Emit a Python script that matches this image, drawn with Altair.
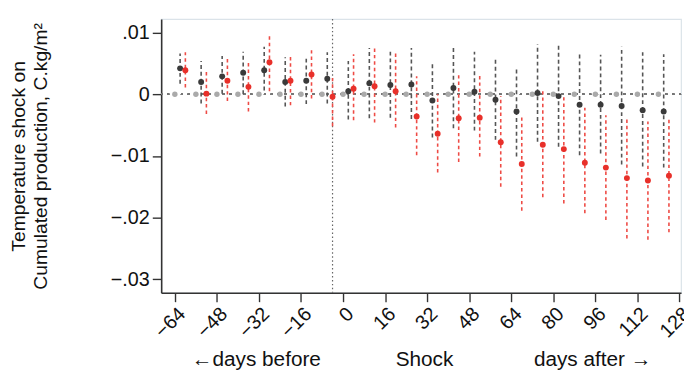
import altair as alt
import pandas as pd

days = [-64, -56, -48, -40, -32, -24, -16, -8, 0, 8, 16, 24,
        32, 40, 48, 56, 64, 72, 80, 88, 96, 104, 112, 120]
base_est = [0.0, 0.0, 0.0, 0.0, 0.0, 0.0, 0.0, 0.0, 0.0, 0.0, 0.0, 0.0,
            0.0, 0.0, 0.0, 0.0, 0.0, 0.0, 0.0, 0.0, 0.0, 0.0, 0.0, 0.0]
dark_est = [0.0042, 0.0020, 0.0029, 0.0035, 0.0039, 0.0020, 0.0022, 0.0025,
            0.0005, 0.0018, 0.0015, 0.0016, -0.0010, 0.0010, 0.0004, -0.0009,
            -0.0028, 0.0002, -0.0003, -0.0017, -0.0017, -0.0019, -0.0026, -0.0028]
dark_lo = [0.0017, -0.0015, 0.0001, 0.0000, 0.0006, -0.0020, -0.0016, -0.0015,
           -0.0041, -0.0039, -0.0038, -0.0040, -0.0070, -0.0055, -0.0059, -0.0074,
           -0.0101, -0.0077, -0.0085, -0.0099, -0.0096, -0.0114, -0.0117, -0.0119]
dark_hi = [0.0066, 0.0054, 0.0062, 0.0069, 0.0077, 0.0060, 0.0060, 0.0068,
           0.0054, 0.0075, 0.0069, 0.0075, 0.0050, 0.0077, 0.0069, 0.0061,
           0.0045, 0.0081, 0.0080, 0.0065, 0.0064, 0.0077, 0.0068, 0.0065]
red_est = [0.0039, 0.0001, 0.0022, 0.0012, 0.0052, 0.0022, 0.0032, -0.0004,
           0.0009, 0.0013, 0.0005, -0.0036, -0.0064, -0.0039, -0.0038, -0.0078,
           -0.0113, -0.0082, -0.0089, -0.0111, -0.0119, -0.0136, -0.0140, -0.0132]
red_lo = [0.0011, -0.0032, -0.0011, -0.0028, 0.0005, -0.0018, -0.0007, -0.0052,
          -0.0042, -0.0046, -0.0054, -0.0099, -0.0127, -0.0110, -0.0101, -0.0150,
          -0.0189, -0.0167, -0.0177, -0.0193, -0.0204, -0.0234, -0.0236, -0.0224]
red_hi = [0.0068, 0.0037, 0.0059, 0.0052, 0.0097, 0.0065, 0.0076, 0.0029,
          0.0065, 0.0075, 0.0066, 0.0029, 0.0000, 0.0031, 0.0032, -0.0003,
          -0.0036, 0.0005, 0.0000, -0.0022, -0.0034, -0.0038, -0.0044, -0.0040]

x_ticks = [-64, -48, -32, -16, 0, 16, 32, 48, 64, 80, 96, 112, 128]
y_ticks = [0.01, 0.0, -0.01, -0.02, -0.03]
shock_day = [-4]
annot_x = [-33, 31, 95]
annot_text = ["\u2190days before", "Shock", "days after \u2192"]

df = pd.DataFrame({
    "day": days, "base": base_est,
    "dark": dark_est, "dark_lo": dark_lo, "dark_hi": dark_hi,
    "red": red_est, "red_lo": red_lo, "red_hi": red_hi,
})
shock_df = pd.DataFrame({"x": shock_day})
annot_df = pd.DataFrame({"x": annot_x, "t": annot_text})

FONT = "Liberation Sans"

xscale = alt.Scale(domain=[-69.2, 128.6], nice=False, zero=False)
yscale = alt.Scale(domain=[-0.0322, 0.0122], nice=False, zero=False)

xaxis = alt.Axis(values=x_ticks, labelAngle=-45, labelFontSize=20, title=None,
                 grid=False, tickSize=9, labelPadding=2)
yaxis = alt.Axis(values=y_ticks, labelFontSize=20, grid=False, tickSize=9,
                 labelPadding=3,
                 labelExpr="datum.value == 0 ? '0' : replace(format(datum.value, '.2f'), '0.', '.')",
                 title=["Temperature shock on", "Cumulated production, C.kg/m\u00b2"],
                 titleFontSize=19.5, titleFontWeight="normal", titlePadding=61,
                 titleLineHeight=22)

base = alt.Chart(df)

zero_line = base.mark_rule(color="#777777", strokeWidth=1.6, strokeDash=[2, 5]).encode(
    y=alt.datum(0, scale=yscale, axis=yaxis)
)
shock_line = alt.Chart(shock_df).mark_rule(color="#666666", strokeWidth=1.2,
                                           strokeDash=[1.5, 2.5]).encode(
    x=alt.X("x:Q", scale=xscale, axis=xaxis)
)
base_pts = base.mark_circle(color="#aaaaaa", size=30, opacity=1).encode(
    x=alt.X("day:Q", scale=xscale, axis=xaxis),
    y=alt.Y("base:Q", scale=yscale, axis=yaxis),
)
dark_ci = base.transform_calculate(xd="datum.day + 2").mark_rule(
    color="#555555", strokeWidth=1.6, strokeDash=[4, 3]).encode(
    x=alt.X("xd:Q", scale=xscale, axis=xaxis),
    y=alt.Y("dark_lo:Q", scale=yscale, axis=yaxis),
    y2="dark_hi:Q",
)
dark_pts = base.transform_calculate(xd="datum.day + 2").mark_circle(
    color="#3a3a3a", size=36, opacity=1).encode(
    x=alt.X("xd:Q", scale=xscale, axis=xaxis),
    y=alt.Y("dark:Q", scale=yscale, axis=yaxis),
)
red_ci = base.transform_calculate(xr="datum.day + 4").mark_rule(
    color="#ee4b45", strokeWidth=1.6, strokeDash=[3.5, 3]).encode(
    x=alt.X("xr:Q", scale=xscale, axis=xaxis),
    y=alt.Y("red_lo:Q", scale=yscale, axis=yaxis),
    y2="red_hi:Q",
)
red_pts = base.transform_calculate(xr="datum.day + 4").mark_circle(
    color="#e8302a", size=36, opacity=1).encode(
    x=alt.X("xr:Q", scale=xscale, axis=xaxis),
    y=alt.Y("red:Q", scale=yscale, axis=yaxis),
)
annot = alt.Chart(annot_df).mark_text(fontSize=21, font=FONT, color="#111111",
                                      baseline="middle", align="center").encode(
    x=alt.X("x:Q", scale=xscale, axis=xaxis),
    y=alt.value(345),
    text="t:N",
)

chart = alt.layer(zero_line, shock_line, base_pts, dark_ci, dark_pts, red_ci, red_pts, annot).properties(
    width=526, height=277,
    autosize=alt.AutoSizeParams(type="none"),
    padding={"left": 155, "top": 9, "right": 3, "bottom": 78},
    background="white",
).configure_view(
    stroke="#dbe3e9", strokeWidth=1.2
).configure_axis(
    labelFont=FONT, titleFont=FONT, labelColor="#111111", titleColor="#111111",
    domainColor="#333333", domainWidth=1.6, tickColor="#333333", tickWidth=1.4,
)

chart.save("out.html", embed_options={"renderer": "svg", "actions": False})
